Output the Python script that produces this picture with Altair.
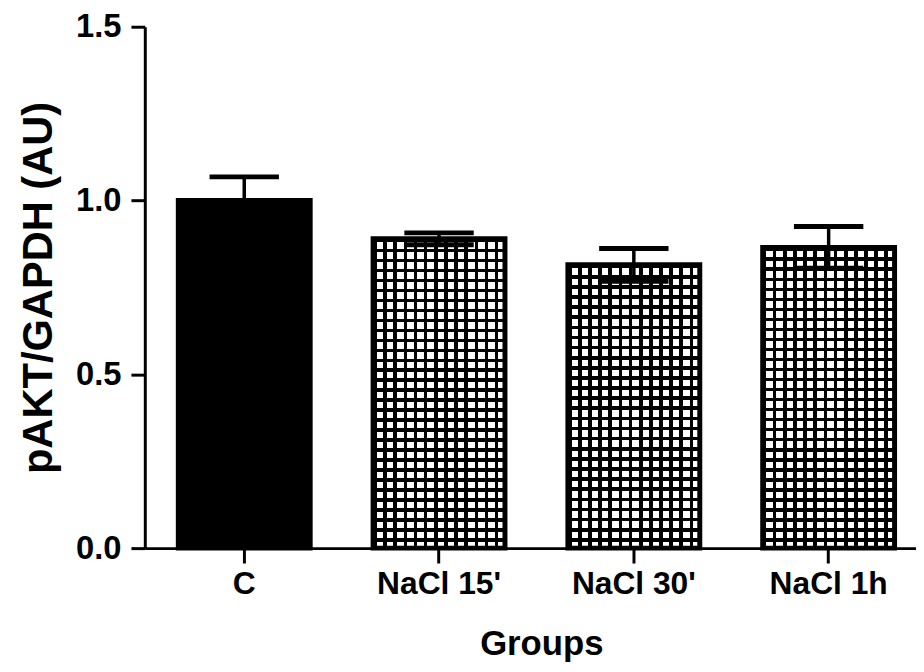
import altair as alt
import pandas as pd

groups = ["C", "NaCl 15'", "NaCl 30'", "NaCl 1h"]
means = [1.0, 0.89, 0.815, 0.865]
sems = [0.068, 0.017, 0.047, 0.06]
hatched = [False, True, True, True]

df = pd.DataFrame({"group": groups, "mean": means, "sem": sems, "hatched": hatched})
df["lo"] = df["mean"] - df["sem"]
df["hi"] = df["mean"] + df["sem"]

W, H = 778, 526
FONT = "Liberation Sans"
CELL = 10.2
BANDW = 133
FRAC = 0.36

x_enc = alt.X(
    "group:N",
    sort=groups,
    scale=alt.Scale(paddingInner=0.323, paddingOuter=0.141, align=0.61),
    axis=alt.Axis(
        title="Groups",
        labelAngle=0,
        labelFont=FONT,
        labelFontSize=32,
        labelFontWeight="bold",
        labelColor="black",
        labelPadding=6,
        tickSize=15,
        tickWidth=3,
        tickColor="black",
        domainWidth=3,
        domainColor="black",
        titleFont=FONT,
        titleFontSize=35,
        titleFontWeight="bold",
        titleColor="black",
        titleX=400,
        titleY=107,
        titleBaseline="alphabetic",
        titleAlign="center",
        grid=False,
    ),
)

y_scale = alt.Scale(domain=[0, 1.5], nice=False, zero=True)
y_axis = alt.Axis(
    title="pAKT/GAPDH (AU)",
    values=[0, 0.5, 1.0, 1.5],
    format=".1f",
    labelFont=FONT,
    labelFontSize=33,
    labelFontWeight="bold",
    labelColor="black",
    labelPadding=10,
    tickSize=14,
    tickWidth=3,
    tickColor="black",
    domainWidth=3,
    domainColor="black",
    titleFont=FONT,
    titleFontSize=42,
    titleFontWeight="bold",
    titleColor="black",
    titleAngle=270,
    titleX=-107,
    titleY=H / 2,
    titleAlign="center",
    titleBaseline="middle",
    grid=False,
)
y_enc = alt.Y("mean:Q", scale=y_scale, axis=y_axis)

base = alt.Chart(df)


def stripes(n, vertical, color_off):
    stops = []
    for i in range(n):
        a = i / n
        b = (i + FRAC) / n
        c = (i + 1) / n
        stops += [
            alt.GradientStop(color="black", offset=a),
            alt.GradientStop(color="black", offset=b),
            alt.GradientStop(color=color_off, offset=b),
            alt.GradientStop(color=color_off, offset=c),
        ]
    if vertical:
        return alt.LinearGradient(gradient="linear", stops=stops, x1=0, x2=1, y1=0, y2=0)
    return alt.LinearGradient(gradient="linear", stops=stops, x1=0, x2=0, y1=0, y2=1)


solid = base.transform_filter(alt.datum.hatched == False).mark_bar(
    color="black", stroke="black", strokeWidth=5, opacity=1
).encode(x=x_enc, y=y_enc)

layers = [solid]
ncols = round(BANDW / CELL)
for g, m, h in zip(groups, means, hatched):
    if not h:
        continue
    nrows = max(1, round(m * H / 1.5 / CELL))
    sub = base.transform_filter(alt.datum.group == g)
    layers.append(
        sub.mark_bar(fill=stripes(ncols, True, "white"), strokeWidth=0, opacity=1).encode(
            x=x_enc, y=y_enc
        )
    )
    layers.append(
        sub.mark_bar(
            fill=stripes(nrows, False, "transparent"), stroke="black", strokeWidth=5, opacity=1
        ).encode(x=x_enc, y=y_enc)
    )

stem = base.mark_rule(color="black", strokeWidth=3.5, opacity=1).encode(
    x=x_enc, y=alt.Y("lo:Q", scale=y_scale, axis=y_axis), y2="hi:Q"
)
cap_hi = base.mark_tick(color="black", size=70, thickness=5, opacity=1).encode(
    x=x_enc, y=alt.Y("hi:Q", scale=y_scale, axis=y_axis)
)
cap_lo = base.mark_tick(color="black", size=70, thickness=5, opacity=1).encode(
    x=x_enc, y=alt.Y("lo:Q", scale=y_scale, axis=y_axis)
)
layers += [stem, cap_hi, cap_lo]

chart = (
    alt.layer(*layers)
    .properties(
        width=W,
        height=H,
        autosize=alt.AutoSizeParams(type="none"),
        padding={"left": 138, "top": 16, "right": 0, "bottom": 114},
        background="white",
    )
    .configure_view(stroke=None)
)

chart.save("out.html", embed_options={"renderer": "svg", "actions": False})
